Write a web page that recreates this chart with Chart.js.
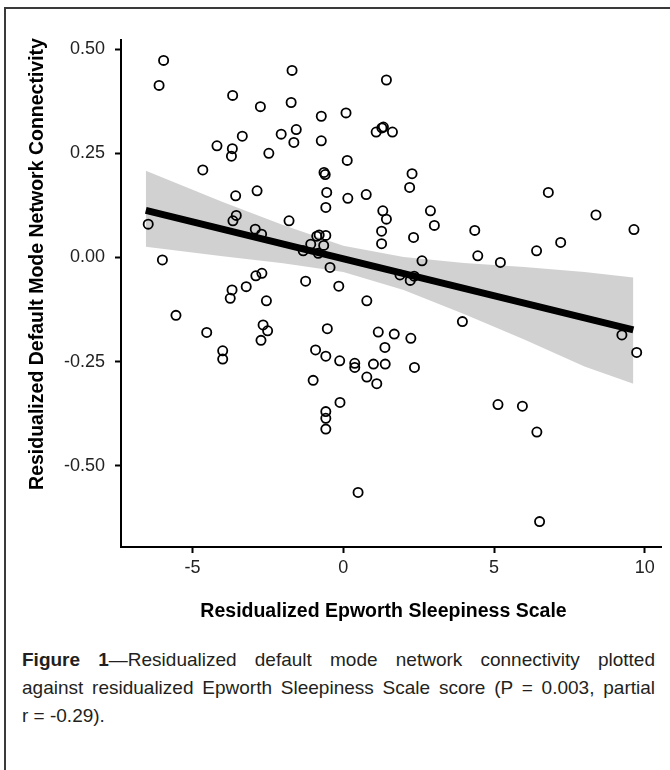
<!DOCTYPE html>
<html>
<head>
<meta charset="utf-8">
<script src="https://cdn.jsdelivr.net/npm/chart.js@4/dist/chart.umd.min.js"></script>
<style>
  html, body { margin: 0; padding: 0; background: #fff; }
  body { width: 670px; height: 770px; position: relative; overflow: hidden; font-family: "Liberation Sans", Arial, sans-serif; }
  #frame { position: absolute; left: 4px; top: 7px; width: 700px; height: 800px; border-left: 2px solid #3a3a3a; border-top: 2px solid #3a3a3a; }
  #chart { position: absolute; left: 0; top: 0; }
  .cap { position: absolute; left: 22px; width: 633px; font-size: 19px; line-height: 28px; color: #231f20; white-space: nowrap; }
  .just { text-align: justify; text-align-last: justify; white-space: normal; }
</style>
</head>
<body>
<div id="frame"></div>
<canvas id="chart" width="670" height="640"></canvas>
<div class="cap just" style="top:646px;"><b>Figure 1</b>—Residualized default mode network connectivity plotted</div>
<div class="cap just" style="top:674px;">against residualized Epworth Sleepiness Scale score (P = 0.003, partial</div>
<div class="cap" style="top:702px;">r = -0.29).</div>
<script>
// Scatter points: residualized ESS (x) and residualized DMN connectivity (y)
const essResid = [
  -5.96, -6.11, -3.67, -2.75, -1.70, -1.73, -3.35, -4.19, -3.68, -3.71,
  -2.06, -1.64, -2.47, -4.66, -3.57, -2.86, 1.43, -0.73, 0.09, -1.56,
  -0.73, 1.09, 1.28, 1.33, 1.63, 0.13, -0.64, -0.60, 2.28, -0.55,
  0.15, 0.76, 2.20, -0.58, 1.31, 2.89, 6.80, -6.47, -3.55, -3.66,
  -2.92, -2.71, -1.80, -6.00, -2.90, -2.70, -3.69, -3.75, -3.22, -2.55,
  -5.55, -4.53, -2.66, -2.51, -2.73, -4.00, -4.00, 1.43, 3.02, 4.36,
  4.46, 1.27, 1.27, 2.33, -0.88, -0.80, -0.58, -1.08, -0.65, -1.33,
  -0.83, -0.44, 2.61, 1.88, 2.22, 2.35, -1.25, -0.15, 0.78, 3.95,
  -0.53, 1.16, 1.69, 2.24, 1.38, -0.92, -0.58, -0.12, 0.38, 0.38,
  1.00, 1.39, 2.36, -1.00, 0.78, 1.11, 5.21, 6.41, 7.21, 8.38,
  9.64, 9.24, 9.73, -0.11, -0.58, -0.58, -0.58, 0.49, 5.13, 5.94,
  6.42, 6.51
];
const dmnResid = [
  0.473, 0.413, 0.389, 0.362, 0.449, 0.372, 0.291, 0.268, 0.261, 0.243,
  0.296, 0.276, 0.250, 0.210, 0.148, 0.160, 0.426, 0.339, 0.347, 0.307,
  0.280, 0.301, 0.311, 0.313, 0.301, 0.233, 0.204, 0.199, 0.201, 0.156,
  0.142, 0.151, 0.168, 0.120, 0.112, 0.112, 0.156, 0.080, 0.101, 0.088,
  0.068, 0.056, 0.088, -0.006, -0.044, -0.038, -0.078, -0.098, -0.070, -0.104,
  -0.139, -0.180, -0.162, -0.176, -0.199, -0.224, -0.244, 0.092, 0.077, 0.065,
  0.004, 0.063, 0.033, 0.048, 0.051, 0.054, 0.053, 0.032, 0.029, 0.016,
  0.010, -0.024, -0.008, -0.042, -0.055, -0.045, -0.057, -0.069, -0.104, -0.154,
  -0.171, -0.179, -0.184, -0.194, -0.216, -0.222, -0.237, -0.248, -0.254, -0.264,
  -0.256, -0.256, -0.264, -0.295, -0.287, -0.303, -0.012, 0.016, 0.036, 0.102,
  0.067, -0.186, -0.228, -0.348, -0.370, -0.386, -0.412, -0.564, -0.353, -0.357,
  -0.419, -0.634
];

// Fitted regression line (end points)
const fitX = [-6.55, 9.62];
const fitY = [0.113, -0.174];

// 95% confidence band edges
const bandX     = [-6.55, -4, -2, 0, 2, 4, 6, 8, 9.62];
const bandUpper = [0.208, 0.133, 0.078, 0.028, 0.001, -0.013, -0.023, -0.035, -0.048];
const bandLower = [0.026, 0.003, -0.014, -0.035, -0.078, -0.136, -0.197, -0.262, -0.303];

// Axis ticks
const xTicks = [-5, 0, 5, 10];
const yTicks = [-0.50, -0.25, 0.00, 0.25, 0.50];

const xTitle = 'Residualized Epworth Sleepiness Scale';
const yTitle = 'Residualized Default Mode Network Connectivity';

const FONT = '"Liberation Sans", Arial, sans-serif';
Chart.defaults.font.family = FONT;

const pts = essResid.map((x, i) => ({ x: x, y: dmnResid[i] }));
const upper = bandX.map((x, i) => ({ x: x, y: bandUpper[i] }));
const lower = bandX.map((x, i) => ({ x: x, y: bandLower[i] }));
const fit = fitX.map((x, i) => ({ x: x, y: fitY[i] }));

// Axis titles drawn as canvas text, positioned like the original figure
const axisTitles = {
  id: 'axisTitles',
  afterDraw(chart) {
    const ctx = chart.ctx;
    ctx.save();
    ctx.fillStyle = '#000';
    ctx.font = 'bold 19.5px ' + FONT;
    ctx.textAlign = 'center';
    ctx.textBaseline = 'middle';
    ctx.fillText(xTitle, 383.5, 612);
    ctx.translate(38, 264);
    ctx.rotate(-Math.PI / 2);
    ctx.fillText(yTitle, 0, 0);
    ctx.restore();
  }
};

new Chart(document.getElementById('chart'), {
  type: 'scatter',
  data: {
    datasets: [
      {
        type: 'scatter', data: pts, order: 2,
        pointStyle: 'circle', pointRadius: 4.6, pointBorderWidth: 1.8,
        pointBackgroundColor: 'rgba(0,0,0,0)', pointBorderColor: '#000',
        borderColor: '#000', backgroundColor: 'rgba(0,0,0,0)'
      },
      {
        type: 'line', data: upper, order: 3, showLine: true,
        borderWidth: 0, borderColor: 'rgba(0,0,0,0)', pointRadius: 0, fill: false, tension: 0
      },
      {
        type: 'line', data: lower, order: 3, showLine: true,
        borderWidth: 0, borderColor: 'rgba(0,0,0,0)', pointRadius: 0,
        fill: 1, backgroundColor: 'rgba(153,153,153,0.45)', tension: 0
      },
      {
        type: 'line', data: fit, order: 1, showLine: true,
        borderWidth: 7, borderColor: '#000', pointRadius: 0, fill: false, borderCapStyle: 'butt'
      }
    ]
  },
  options: {
    responsive: false,
    animation: false,
    events: [],
    layout: { padding: { top: 40, right: 9, left: 0, bottom: 0 } },
    plugins: { legend: { display: false }, tooltip: { enabled: false } },
    scales: {
      x: {
        type: 'linear', min: -7.373, max: 10.537,
        afterBuildTicks: (s) => { s.ticks = xTicks.map(v => ({ value: v })); },
        afterFit: (s) => { s.height = 93; },
        grid: { drawOnChartArea: false, drawTicks: true, tickLength: 6, tickWidth: 2, tickColor: '#000', color: '#000' },
        border: { display: true, color: '#000', width: 2 },
        ticks: { color: '#222', font: { size: 18 }, padding: 4, callback: (v) => String(v) },
        title: { display: false, text: xTitle }
      },
      y: {
        type: 'linear', min: -0.695, max: 0.522,
        afterBuildTicks: (s) => { s.ticks = yTicks.map(v => ({ value: v })); },
        afterFit: (s) => { s.width = 121; },
        grid: { drawOnChartArea: false, drawTicks: true, tickLength: 6, tickWidth: 2, tickColor: '#000', color: '#000' },
        border: { display: true, color: '#000', width: 2 },
        ticks: { color: '#222', font: { size: 18 }, padding: 10, callback: (v) => Number(v).toFixed(2) },
        title: { display: false, text: yTitle }
      }
    }
  },
  plugins: [axisTitles]
});
</script>
</body>
</html>
